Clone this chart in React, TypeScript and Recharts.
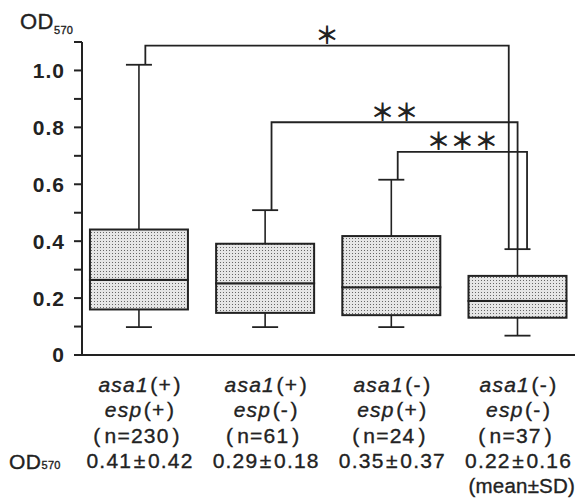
import { ComposedChart, Bar, Line, XAxis, YAxis, LabelList } from 'recharts';

// group labels under each box
const asaStatus = ['+', '+', '-', '-'];
const espStatus = ['+', '-', '+', '-'];
const counts = [230, 61, 24, 37];
const means = [0.41, 0.29, 0.35, 0.22];
const sds = [0.42, 0.18, 0.37, 0.16];

// box plot statistics (OD570)
const mins = [0.098, 0.098, 0.098, 0.068];
const q1s = [0.16, 0.148, 0.14, 0.131];
const medians = [0.264, 0.252, 0.238, 0.19];
const q3s = [0.441, 0.391, 0.418, 0.278];
const maxs = [1.02, 0.509, 0.616, 0.372];

// significance brackets
const bracketFrom = [0, 1, 2];
const bracketTo = [3, 3, 3];
const bracketHeights = [1.087, 0.818, 0.714];
const bracketStars = ['＊', '＊＊', '＊＊＊'];

const yTicks = [0, 0.1, 0.2, 0.3, 0.4, 0.5, 0.6, 0.7, 0.8, 0.9, 1.0, 1.1];

const FONT = '"Liberation Sans", Arial, Helvetica, sans-serif';
const INK = '#222';
const X_DOMAIN: [number, number] = [-0.452, 3.455];
const LEG_FROM = [0.05, 0.05, 0.05];
const LEG_TO = [-0.07, 0.0, 0.075];

const boxData = mins.map((mn, i) => ({
  x: i,
  base: mn,
  lowW: q1s[i] - mn,
  lowB: medians[i] - q1s[i],
  highB: q3s[i] - medians[i],
  highW: maxs[i] - q3s[i],
}));

const bracketData = bracketFrom.map((from, k) => {
  const to = bracketTo[k];
  const l = from + LEG_FROM[k];
  const r = to + LEG_TO[k];
  const h = bracketHeights[k];
  return [
    { x: l, y: maxs[from] },
    { x: l, y: h },
    { x: (l + r) / 2, y: h, star: bracketStars[k] },
    { x: r, y: h },
    { x: r, y: maxs[to] },
  ];
});

const Whisker = (props: any) => {
  const { x, y, width, height, top } = props;
  const cx = x + width / 2;
  const capY = top ? y : y + height;
  return (
    <g>
      <line x1={cx} x2={cx} y1={y} y2={y + height} stroke={INK} strokeWidth={1.6} />
      <line x1={cx - 13} x2={cx + 13} y1={capY} y2={capY} stroke={INK} strokeWidth={1.8} />
    </g>
  );
};

const BoxPart = (props: any) => {
  const { x, y, width, height } = props;
  return <rect x={x} y={y} width={width} height={height} fill="url(#dots)" stroke={INK} strokeWidth={2} />;
};

const Paren = ({ children }: any) => <tspan dx={1.5}>{children}</tspan>;

const GroupTick = (props: any) => {
  const { x, y, payload } = props;
  const i = Math.round(payload.value);
  const cx = x + 1;
  return (
    <g fontFamily={FONT} fontSize={21} fill={INK} stroke={INK} strokeWidth={0.35} textAnchor="middle" letterSpacing={1.2}>
      <text x={cx} y={y + 37}>
        <tspan fontStyle="italic">asa1</tspan>
        <Paren>(</Paren>
        <tspan>{asaStatus[i]}</tspan>
        <Paren>)</Paren>
      </text>
      <text x={cx} y={y + 62}>
        <tspan fontStyle="italic">esp</tspan>
        <Paren>(</Paren>
        <tspan>{espStatus[i]}</tspan>
        <Paren>)</Paren>
      </text>
      <text x={cx - 3} y={y + 88}>
        (<tspan dx={3}>n={counts[i]}</tspan>
        <tspan dx={3}>)</tspan>
      </text>
      <text x={cx} y={y + 113}>
        {means[i].toFixed(2)}
        <tspan dx={1.5}>±</tspan>
        <tspan dx={1.5}>{sds[i].toFixed(2)}</tspan>
      </text>
    </g>
  );
};

const StarLabel = (props: any) => {
  const { x, y, value } = props;
  if (!value) return null;
  return (
    <text
      x={x}
      y={y - 12}
      textAnchor="middle"
      dominantBaseline="central"
      fontFamily='"Noto Sans CJK JP", sans-serif'
      fontSize={24}
      fontWeight="bold"
      fill={INK}
    >
      {value}
    </text>
  );
};

export default function App() {
  return (
    <div style={{ position: 'absolute', left: 0, top: 0, width: 577, height: 501, background: '#fff' }}>
      <ComposedChart width={577} height={501} data={boxData} margin={{ top: 42, right: 2, bottom: 0, left: 0 }}>
        <defs>
          <pattern id="dots" width={3} height={3} patternUnits="userSpaceOnUse">
            <rect width={3} height={3} fill="#e6e6e6" />
            <rect x={1} y={1} width={1} height={1} fill="#666" />
          </pattern>
        </defs>
        <XAxis
          dataKey="x"
          type="number"
          domain={X_DOMAIN}
          allowDataOverflow
          ticks={[0, 1, 2, 3]}
          interval={0}
          height={146}
          tickSize={0}
          tickMargin={0}
          tickLine={false}
          axisLine={{ stroke: INK, strokeWidth: 2 }}
          tick={<GroupTick />}
        />
        <XAxis xAxisId="br" dataKey="x" type="number" domain={X_DOMAIN} allowDataOverflow hide />
        <YAxis
          type="number"
          domain={[0, 1.1]}
          ticks={yTicks}
          interval={0}
          width={82}
          tickSize={8}
          tickMargin={9}
          axisLine={{ stroke: INK, strokeWidth: 2 }}
          tickLine={{ stroke: INK, strokeWidth: 2 }}
          tick={{ fill: INK, fontSize: 21, fontWeight: 'bold', fontFamily: FONT, letterSpacing: 1 }}
          tickFormatter={(v: number) => {
            const t = Math.round(v * 10);
            if (t % 2 !== 0) return '';
            return t === 0 ? '0' : v.toFixed(1);
          }}
        />
        <Bar dataKey="base" stackId="box" barSize={98} fill="none" shape={() => <g />} isAnimationActive={false} />
        <Bar dataKey="lowW" stackId="box" barSize={98} shape={<Whisker />} isAnimationActive={false} />
        <Bar dataKey="lowB" stackId="box" barSize={98} shape={<BoxPart />} isAnimationActive={false} />
        <Bar dataKey="highB" stackId="box" barSize={98} shape={<BoxPart />} isAnimationActive={false} />
        <Bar dataKey="highW" stackId="box" barSize={98} shape={<Whisker top />} isAnimationActive={false} />
        {bracketData.map((pts, k) => (
          <Line
            key={k}
            xAxisId="br"
            data={pts}
            dataKey="y"
            type="linear"
            stroke={INK}
            strokeWidth={1.8}
            dot={false}
            activeDot={false}
            isAnimationActive={false}
          >
            <LabelList dataKey="star" content={<StarLabel />} />
          </Line>
        ))}
      </ComposedChart>
      <svg width={577} height={501} style={{ position: 'absolute', left: 0, top: 0, pointerEvents: 'none' }}>
        <g fontFamily={FONT} fill={INK} stroke={INK} strokeWidth={0.35}>
          <text x={20} y={29} fontSize={22} letterSpacing={0.5}>
            OD<tspan fontSize={11} dy={5} letterSpacing={0.3}>570</tspan>
          </text>
          <text x={9} y={469} fontSize={21} letterSpacing={0.5}>
            OD<tspan fontSize={11} letterSpacing={0.3}>570</tspan>
          </text>
          <text x={575} y={493} fontSize={20.5} textAnchor="end" letterSpacing={0.2}>
            (mean±SD)
          </text>
        </g>
      </svg>
    </div>
  );
}
